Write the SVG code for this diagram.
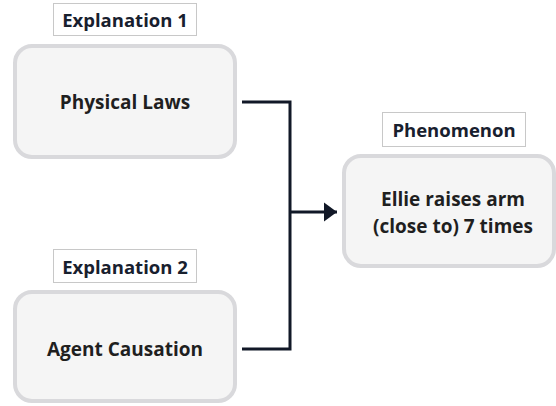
<svg xmlns="http://www.w3.org/2000/svg" width="556" height="406" viewBox="0 0 556 406">
<defs>
<style>
.box{fill:#f5f5f5;stroke:#d9d9dc;stroke-width:4}
.lbl{fill:#ffffff;stroke:#c8c8c8;stroke-width:1}
.t{font-family:"Open Sans","Liberation Sans",sans-serif;font-weight:700;font-size:19px;fill:#1f1f1f;text-anchor:middle}
.lt{font-family:"Open Sans","Liberation Sans",sans-serif;font-weight:700;font-size:18.5px;fill:#18202e;text-anchor:middle}
.c{fill:none;stroke:#111827;stroke-width:3}
</style>
<marker id="ah" viewBox="0 0 10 10" refX="10" refY="5" markerWidth="4.5" markerHeight="6.5" markerUnits="strokeWidth" orient="auto" preserveAspectRatio="none">
<path d="M0,0 L10,5 L0,10 z" fill="#111827"/>
</marker>
</defs>
<rect width="556" height="406" fill="#ffffff"/>
<g id="connectors">
<path class="c" d="M242,102 H290 V349 H242"/>
<path class="c" d="M290,212 H337" marker-end="url(#ah)"/>
</g>
<g id="n1">
<rect class="lbl" x="53.5" y="3.5" width="143" height="32"/>
<text class="lt" x="125" y="26.5">Explanation 1</text>
<rect class="box" x="15" y="46" width="220" height="111" rx="17"/>
<text class="t" x="125" y="109">Physical Laws</text>
</g>
<g id="n2">
<rect class="lbl" x="53.5" y="249.5" width="143" height="33"/>
<text class="lt" x="125" y="273.5">Explanation 2</text>
<rect class="box" x="15" y="292" width="220" height="109" rx="17"/>
<text class="t" x="125" y="356">Agent Causation</text>
</g>
<g id="n3">
<rect class="lbl" x="382.5" y="112.5" width="143" height="34"/>
<text class="lt" x="454" y="136.5">Phenomenon</text>
<rect class="box" x="344" y="156" width="210" height="110" rx="17"/>
<text class="t" x="453" y="206">Ellie raises arm</text>
<text class="t" x="453" y="233">(close to) 7 times</text>
</g>
</svg>
